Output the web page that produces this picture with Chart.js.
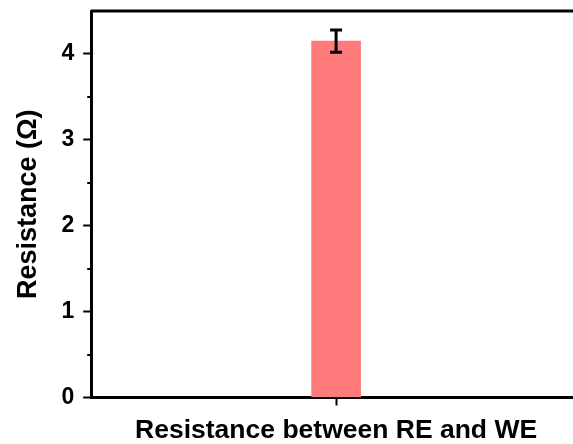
<!DOCTYPE html>
<html>
<head>
<meta charset="utf-8">
<script src="https://cdn.jsdelivr.net/npm/chart.js@4"></script>
<style>
  html, body { margin: 0; padding: 0; background: #fff; overflow: hidden; }
  #wrap { width: 581px; height: 444px; }
</style>
</head>
<body>
<div id="wrap"><canvas id="myChart"></canvas></div>
<script>
// values
let categories = ["RE-WE"];
let resistance = [4.15];
let resistanceErr = [0.13];
let yTicks = [0, 1, 2, 3, 4];
let yMinorTicks = [0.5, 1.5, 2.5, 3.5];

// error bars, top frame line and minor ticks
const extras = {
  id: "extras",
  afterDatasetsDraw(chart) {
    let ctx = chart.ctx;
    let x = chart.scales.x;
    let y = chart.scales.y;
    let area = chart.chartArea;
    ctx.save();
    ctx.strokeStyle = "#000";
    ctx.lineWidth = 3;
    ctx.beginPath();
    ctx.moveTo(area.left, area.top);
    ctx.lineTo(area.right + 10, area.top);
    ctx.stroke();

    ctx.lineWidth = 2;
    for (const v of yMinorTicks) {
      let py = Math.round(y.getPixelForValue(v));
      ctx.beginPath();
      ctx.moveTo(area.left - 4, py);
      ctx.lineTo(area.left, py);
      ctx.stroke();
    }

    ctx.lineWidth = 3;
    resistance.forEach((v, i) => {
      let px = x.getPixelForValue(i);
      let hi = y.getPixelForValue(v + resistanceErr[i]);
      let lo = y.getPixelForValue(v - resistanceErr[i]);
      ctx.beginPath();
      ctx.moveTo(px, hi); ctx.lineTo(px, lo);
      ctx.moveTo(px - 6, hi); ctx.lineTo(px + 6, hi);
      ctx.moveTo(px - 6, lo); ctx.lineTo(px + 6, lo);
      ctx.stroke();
    });
    ctx.restore();
  }
};

let ctx = document.getElementById("myChart").getContext("2d");
let myChart = new Chart(ctx, {
  type: "bar",
  data: {
    labels: categories,
    datasets: [
      {
        label: "Resistance",
        data: resistance,
        backgroundColor: "#ff7b7b",
        borderWidth: 0,
        barThickness: 49,
      }
    ],
  },
  options: {
    responsive: true,
    maintainAspectRatio: false,
    animation: false,
    layout: { padding: { top: 11, left: 12, right: 0, bottom: 0 } },
    plugins: { legend: { display: false }, tooltip: { enabled: false } },
    scales: {
      x: {
        grid: { display: true, offset: false, drawOnChartArea: false, tickLength: 8, tickWidth: 2, tickColor: "#000" },
        border: { color: "#000", width: 3 },
        ticks: { display: false },
        title: {
          display: true,
          text: "Resistance between RE and WE",
          color: "#000",
          font: { family: "Liberation Sans", size: 26.5, weight: "bold", lineHeight: 1 },
          padding: { top: 12, bottom: 0 },
        },
      },
      y: {
        min: 0,
        max: 4.5,
        afterBuildTicks(scale) {
          scale.ticks = yTicks.map(v => ({ value: v }));
        },
        afterFit(scale) {
          scale.paddingTop = 0;
          scale.paddingBottom = 0;
        },
        grid: { display: true, drawOnChartArea: false, tickLength: 8, tickWidth: 2, tickColor: "#000" },
        border: { color: "#000", width: 3 },
        ticks: {
          color: "#000",
          padding: 9,
          font: { family: "Liberation Sans", size: 23, weight: "bold" },
        },
        title: {
          display: true,
          text: "Resistance (Ω)",
          color: "#000",
          font: { family: "Liberation Sans", size: 27, weight: "bold", lineHeight: 1.2 },
          padding: { top: 0, bottom: 8 },
        },
      },
    },
  },
  plugins: [extras],
});
</script>
</body>
</html>
